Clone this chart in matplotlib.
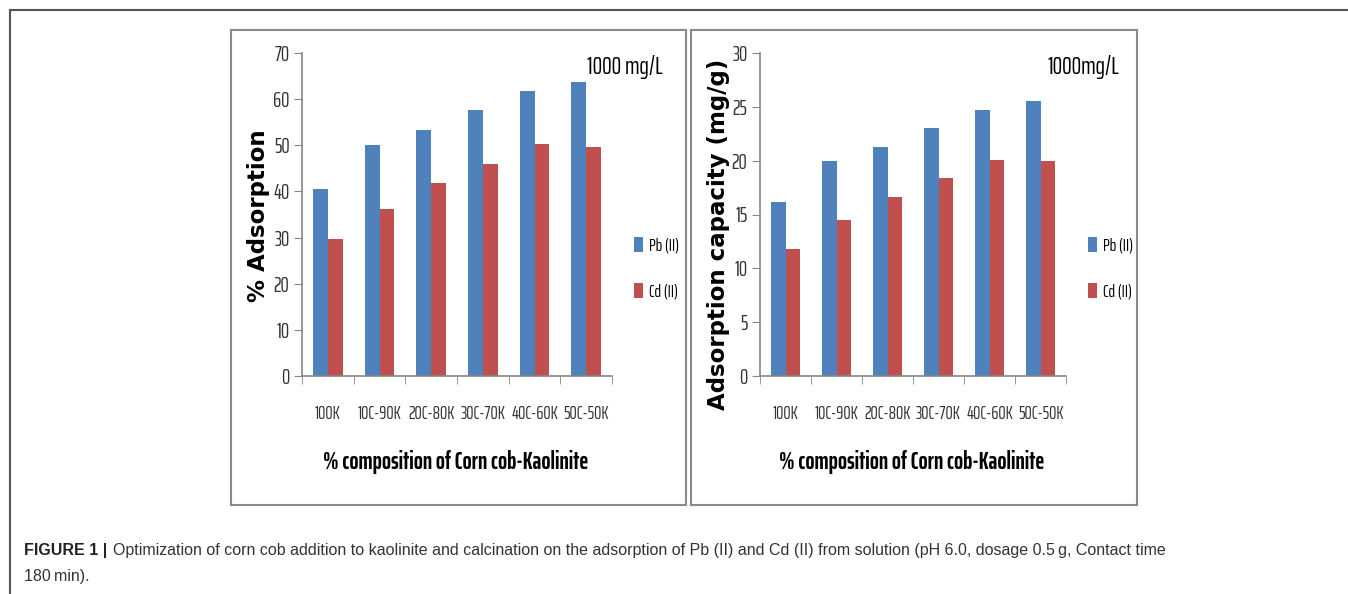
import matplotlib.pyplot as plt
import numpy as np
from matplotlib.patches import Rectangle
from matplotlib.lines import Line2D

categories = ["100K", "10C-90K", "20C-80K", "30C-70K", "40C-60K", "50C-50K"]
pb_adsorption = [40.6, 50.0, 53.3, 57.6, 61.7, 63.8]
cd_adsorption = [29.6, 36.3, 41.8, 45.9, 50.3, 49.7]
pb_capacity = [16.2, 20.0, 21.3, 23.0, 24.7, 25.5]
cd_capacity = [11.8, 14.5, 16.6, 18.4, 20.1, 20.0]

BLUE = "#4F81BD"
RED = "#C0504D"
AXC = "#868686"
NARROW = ["Saira ExtraCondensed", "Fira Sans Extra Condensed", "DejaVu Sans"]

W, H = 1348, 594
fig = plt.figure(figsize=(W / 100, H / 100), dpi=100)


def px_axes(left, top, right, bottom):
    return fig.add_axes([left / W, 1 - bottom / H, (right - left) / W, (bottom - top) / H])


# outer figure frame (top and left only)
fig.add_artist(Line2D([10 / W, 1], [1 - 10 / H] * 2, color="#555555", lw=1.5))
fig.add_artist(Line2D([10 / W] * 2, [1 - 10 / H, 0], color="#555555", lw=1.5))

# panel boxes
for l, t, r, b in [(231, 30, 686, 505), (691, 30, 1137, 505)]:
    fig.add_artist(Rectangle((l / W, 1 - b / H), (r - l) / W, (b - t) / H,
                             fill=False, edgecolor="#8a8a8a", lw=1.5))


def panel(ax, pb, cd, ymax, ystep, ylabel, ylab_pos, note, note_x):
    x = np.arange(len(categories))
    w = 0.29
    ax.bar(x - w / 2, pb, w, color=BLUE, label="Pb (II)")
    ax.bar(x + w / 2, cd, w, color=RED, label="Cd (II)")
    ax.set_xlim(-0.5, len(categories) - 0.5)
    ax.set_ylim(0, ymax)
    ax.set_yticks(np.arange(0, ymax + 0.1, ystep))
    ax.set_xticks(x)
    ax.set_xticklabels(categories, family=NARROW, fontsize=13.2, color="#333333")
    ax.set_xticks(np.arange(-0.5, len(categories)), minor=True)
    ax.tick_params(axis="x", which="major", length=0, pad=21)
    ax.tick_params(axis="x", which="minor", length=6, color=AXC, direction="out")
    ax.tick_params(axis="y", length=6, color=AXC, labelsize=15, labelcolor="#333333", pad=3)
    for lab in ax.get_yticklabels():
        lab.set_family(NARROW)
    for s in ["top", "right"]:
        ax.spines[s].set_visible(False)
    for s in ["left", "bottom"]:
        ax.spines[s].set_color(AXC)
        ax.spines[s].set_linewidth(1.2)
    ax.set_ylabel(ylabel, fontsize=16.5, fontweight="bold", family="DejaVu Sans")
    ax.yaxis.set_label_coords(*ylab_pos)
    ax.yaxis.label.set_va("center")
    ax.set_xlabel("% composition of Corn cob-Kaolinite", family=NARROW, fontsize=17.2,
                  fontweight="bold")
    ax.xaxis.set_label_coords(0.497, -0.266)
    ax.xaxis.label.set_va("center")
    fig.text(note_x / W, 1 - 67 / H, note, family=NARROW, fontsize=17.5, va="center", ha="left")
    ax.legend(loc="center left", bbox_to_anchor=(1.072, 0.334), frameon=False,
              prop={"family": NARROW, "size": 12.5}, handlelength=0.5, handleheight=1.0,
              handletextpad=0.35, labelspacing=1.7, borderpad=0, borderaxespad=0)


ax1 = px_axes(302, 53, 612, 376)
panel(ax1, pb_adsorption, cd_adsorption, 70, 10, "% Adsorption", (-0.139, 0.495),
      "1000 mg/L", 587)

ax2 = px_axes(760, 53, 1066, 376)
panel(ax2, pb_capacity, cd_capacity, 30, 5, "Adsorption capacity (mg/g)", (-0.137, 0.437),
      "1000mg/L", 1047)

# caption
fig.text(24 / W, 1 - 551 / H, "FIGURE 1 |", fontsize=11.5, fontweight="bold",
         family="Liberation Sans", color="#222222", va="center")
fig.text(113 / W, 1 - 551 / H,
         "Optimization of corn cob addition to kaolinite and calcination on the adsorption "
         "of Pb (II) and Cd (II) from solution (pH 6.0, dosage 0.5\u2009g, Contact time",
         fontsize=11.5, family="Liberation Sans", color="#333333", va="center")
fig.text(24 / W, 1 - 576 / H, "180\u2009min).", fontsize=11.5, family="Liberation Sans",
         color="#333333", va="center")

fig.savefig("out.png", dpi=100)
